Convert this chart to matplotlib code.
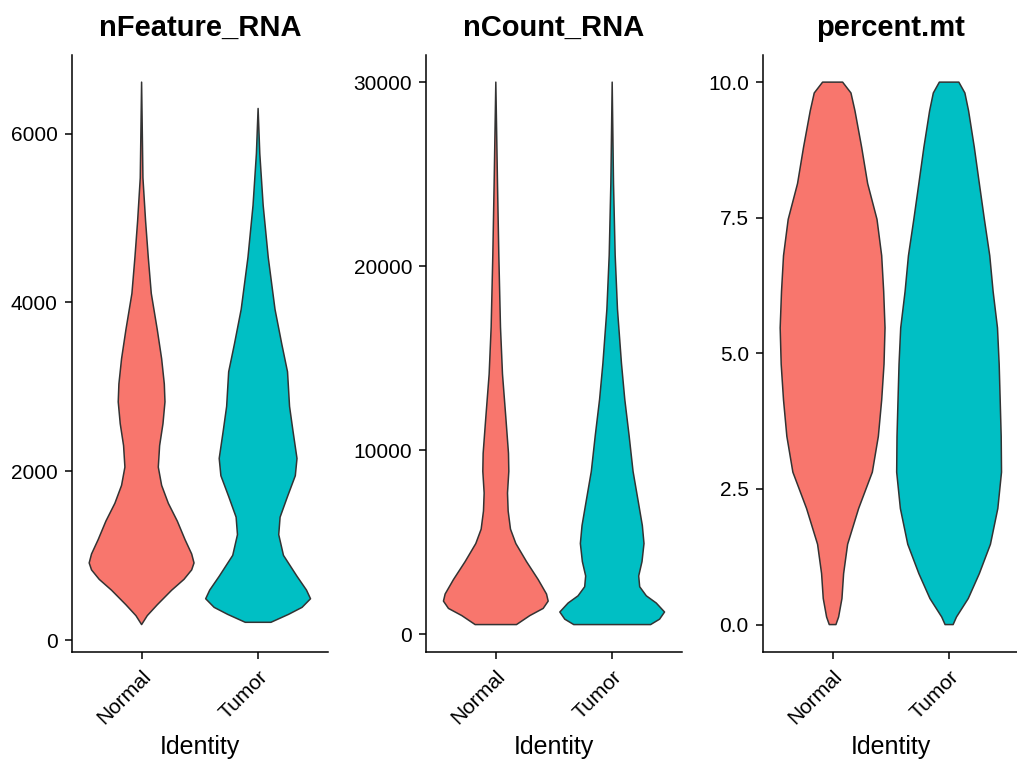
import matplotlib
matplotlib.use('Agg')
import matplotlib.pyplot as plt
import numpy as np
from matplotlib.ticker import FormatStrFormatter

plt.rcParams['font.family'] = ['Liberation Sans', 'DejaVu Sans']

groups = ['Normal', 'Tumor']
colors = ['#F8766D', '#00BFC4']

# violin outlines: value -> half width (relative, scaled later)
feat_normal_y = [6610, 5476, 4961, 4534, 4107, 3677, 3334, 3035, 2823, 2564, 2305,
                 2050, 1834, 1622, 1410, 1192, 1021, 915, 833, 721, 592, 420, 291, 185]
feat_normal_w = [0, 4, 12, 20, 29, 47, 60, 68, 70, 64, 54,
                 50, 60, 80, 107, 130, 150, 157, 150, 127, 90, 47, 17, 0]
feat_tumor_y = [6298, 5764, 5150, 4534, 3919, 3508, 3179, 2769, 2482, 2153, 1948,
                1702, 1457, 1250, 1005, 757, 594, 491, 389, 306, 212]
feat_tumor_w = [0, 5, 15, 30, 50, 70, 87, 93, 103, 115, 110,
                87, 65, 61, 75, 115, 143, 155, 130, 90, 38]

count_normal_y = [30000, 24518, 20600, 16690, 14143, 11790, 9837, 8861, 7679, 6703,
                  5721, 4940, 3959, 2983, 2196, 1811, 1415, 1025, 537]
count_normal_w = [0, 5, 9, 14, 20, 30, 38, 39, 35, 37,
                  44, 60, 92, 127, 152, 157, 142, 102, 62]
count_tumor_y = [30000, 24518, 20600, 17663, 14729, 12771, 10813, 8856, 7289, 5917,
                 4940, 3959, 3178, 2592, 2099, 1708, 1220, 830, 537]
count_tumor_w = [0, 4, 9, 16, 28, 38, 51, 63, 78, 91,
                 96, 90, 80, 83, 103, 133, 158, 143, 116]

mt_normal_y = [10.0, 9.80, 9.47, 8.80, 8.13, 7.47, 6.80, 6.14, 5.47, 4.80,
               4.14, 3.47, 2.81, 2.14, 1.48, 0.94, 0.48, 0.14, 0.0]
mt_normal_w = [30, 55, 67, 87, 105, 133, 147, 153, 157, 154,
               147, 137, 119, 78, 45, 33, 28, 18, 10]
mt_tumor_y = [10.0, 9.80, 9.47, 8.80, 8.13, 7.47, 6.80, 6.14, 5.47, 4.80,
              4.14, 3.47, 2.81, 2.14, 1.48, 0.94, 0.48, 0.14, 0.0]
mt_tumor_w = [29, 47, 58, 75, 90, 105, 121, 131, 144, 149,
              152, 155, 156, 145, 123, 90, 57, 22, 12]

panels = [
    ('nFeature_RNA', [(feat_normal_y, feat_normal_w), (feat_tumor_y, feat_tumor_w)],
     [0, 2000, 4000, 6000], '%d'),
    ('nCount_RNA', [(count_normal_y, count_normal_w), (count_tumor_y, count_tumor_w)],
     [0, 10000, 20000, 30000], '%d'),
    ('percent.mt', [(mt_normal_y, mt_normal_w), (mt_tumor_y, mt_tumor_w)],
     [0, 2.5, 5.0, 7.5, 10.0], '%.1f'),
]

fig = plt.figure(figsize=(10.17, 7.65), dpi=100)
W, H = 1017, 765
lefts = [71.7, 426, 762.7]
rights = [328, 682, 1019]
top, bottom = 55, 651.7

for i, (title, violins, ticks, fmt) in enumerate(panels):
    ax = fig.add_axes([lefts[i] / W, (H - bottom) / H,
                       (rights[i] - lefts[i]) / W, (bottom - top) / H])
    lo, hi = np.inf, -np.inf
    for k, (ys, ws) in enumerate(violins):
        ys = np.asarray(ys, float)
        ws = np.asarray(ws, float) / max(ws) * 0.45
        xs = np.concatenate([k + 1 + ws, (k + 1 - ws)[::-1]])
        yy = np.concatenate([ys, ys[::-1]])
        ax.fill(xs, yy, facecolor=colors[k], edgecolor='#333333', linewidth=1.1,
                joinstyle='round', zorder=2)
        lo, hi = min(lo, ys.min()), max(hi, ys.max())
    pad = (hi - lo) * 0.05
    ax.set_ylim(lo - pad, hi + pad)
    ax.set_xlim(0.4, 2.6)
    ax.set_xticks([1, 2])
    ax.set_xticklabels(groups, rotation=45, ha='right', va='top',
                       rotation_mode='anchor', fontsize=15, color='black')
    ax.set_yticks(ticks)
    ax.yaxis.set_major_formatter(FormatStrFormatter(fmt))
    ax.tick_params(axis='both', length=5, width=1.1, color='black',
                   labelsize=15, labelcolor='black', pad=5)
    ax.tick_params(axis='x', pad=6)
    for s in ['top', 'right']:
        ax.spines[s].set_visible(False)
    for s in ['left', 'bottom']:
        ax.spines[s].set_linewidth(1.1)
    ax.set_title(title, fontsize=21, fontweight='bold', pad=14)
    ax.set_xlabel('Identity', fontsize=18, labelpad=5)

fig.savefig('out.png', dpi=100)
